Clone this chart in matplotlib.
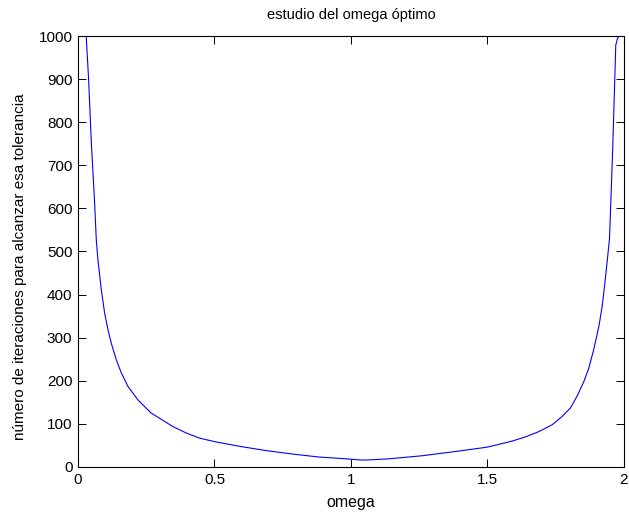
import matplotlib
matplotlib.use("Agg")
import matplotlib.pyplot as plt

plt.rcParams['font.family'] = ['Liberation Sans', 'DejaVu Sans']

# omega values and iterations
omega = [0.0, 0.01, 0.02, 0.03, 0.039, 0.049, 0.061, 0.067, 0.073, 0.0855,
         0.0976, 0.110, 0.122, 0.140, 0.159, 0.183, 0.219, 0.268, 0.299,
         0.347, 0.396, 0.445, 0.499, 0.591, 0.689, 0.786, 0.884, 0.957,
         1.00, 1.04, 1.07, 1.14, 1.26, 1.384, 1.499, 1.59, 1.64, 1.688,
         1.737, 1.773, 1.804, 1.828, 1.853, 1.871, 1.889, 1.908, 1.920,
         1.930, 1.939, 1.947, 1.959, 1.970, 1.976, 1.983, 1.99, 2.0]
iters = [1000, 1000, 1000, 1000, 898, 751, 612, 527, 481, 411,
         357, 318, 287, 249, 218, 187, 156, 125, 113,
         94, 79, 67, 59, 48, 38, 30, 23, 20,
         18, 16, 16.5, 19, 26, 36, 46, 60, 70, 82,
         98, 117, 137, 164, 198, 229, 272, 326, 372,
         426, 480, 530, 743, 979, 994, 1000, 1000, 1000]

fig = plt.figure(figsize=(6.29, 5.18), dpi=100)
ax = fig.add_axes([0.124, 0.0985, 0.868, 0.832])
ax.plot(omega, iters, color='blue', linewidth=0.8)

ax.set_xlim(0, 2)
ax.set_ylim(0, 1000)
ax.set_xticks([0, 0.5, 1, 1.5, 2])
ax.set_xticklabels(['0', '0.5', '1', '1.5', '2'])
ax.set_yticks(range(0, 1001, 100))
ax.tick_params(direction='in', top=True, right=True, length=5.5, width=0.7,
               labelsize=11, pad=4)
for s in ax.spines.values():
    s.set_linewidth(0.8)

ax.set_title('estudio del omega óptimo', fontsize=10.5, pad=12.5)
ax.set_xlabel('omega', fontsize=11.5, labelpad=6)
ax.set_ylabel('número de iteraciones para alcanzar esa tolerancia', fontsize=11)
ax.yaxis.set_label_coords(-0.093, 0.465)

fig.savefig('out.png', dpi=100)
